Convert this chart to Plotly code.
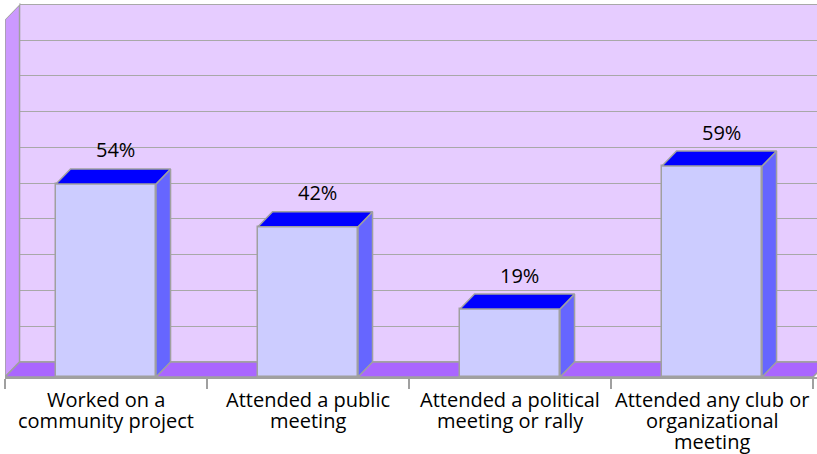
import plotly.graph_objects as go

# Survey results: share of respondents who took part in each activity
label_lines = [
    ["Worked on a", "community project"],
    ["Attended a public", "meeting"],
    ["Attended a political", "meeting or rally"],
    ["Attended any club or", "organizational", "meeting"],
]
values = [54, 42, 19, 59]
grid_steps = list(range(0, 101, 10))

# pseudo-3D geometry (in data units)
DX = 0.072          # horizontal depth offset
DY = 4.2            # vertical depth offset
BAR_W = 0.495
X_MIN, X_MAX = -0.5, len(values) - 0.5

FRONT = "#CCCCFF"
TOP = "#0000FF"
SIDE = "#6666FF"
EDGE = "#A0A0A0"
BACK_WALL = "#E6CCFF"
LEFT_WALL = "#CC99FF"
FLOOR = "#AA66FF"
FONT = "Open Sans"
LINE_GAP = 21       # px between category label lines

xs = list(range(len(values)))

fig = go.Figure()

# front faces
fig.add_trace(go.Bar(
    x=xs, y=values, width=BAR_W,
    marker=dict(color=FRONT, line=dict(color=EDGE, width=1.5)),
    hoverinfo="skip", showlegend=False,
))

# top and side faces built from the same values
top_x, top_y, side_x, side_y = [], [], [], []
for x, v in zip(xs, values):
    l, r = x - BAR_W / 2, x + BAR_W / 2
    top_x += [l, r, r + DX, l + DX, l, None]
    top_y += [v, v, v + DY, v + DY, v, None]
    side_x += [r, r + DX, r + DX, r, r, None]
    side_y += [0, DY, v + DY, v, 0, None]

fig.add_trace(go.Scatter(
    x=side_x, y=side_y, mode="lines", fill="toself", fillcolor=SIDE,
    line=dict(color=EDGE, width=1.5), hoverinfo="skip", showlegend=False,
))
fig.add_trace(go.Scatter(
    x=top_x, y=top_y, mode="lines", fill="toself", fillcolor=TOP,
    line=dict(color=EDGE, width=1.5), hoverinfo="skip", showlegend=False,
))

# walls and floor
shapes = [
    dict(type="rect", layer="below", xref="x", yref="y",
         x0=X_MIN + DX, x1=X_MAX + 1, y0=DY, y1=100 + DY,
         fillcolor=BACK_WALL, line=dict(width=0)),
    dict(type="path", layer="between", xref="x", yref="y",
         path=f"M {X_MIN},0 L {X_MIN + DX},{DY} L {X_MIN + DX},{100 + DY} L {X_MIN},100 Z",
         fillcolor=LEFT_WALL, line=dict(color=EDGE, width=1.5)),
    dict(type="path", layer="between", xref="x", yref="y",
         path=f"M {X_MIN},100 L {X_MIN + DX},{100 + DY} L {X_MIN},{100 + DY + 5} Z",
         fillcolor="white", line=dict(width=0)),
    dict(type="path", layer="between", xref="x", yref="y",
         path=f"M {X_MIN},0 L {X_MAX},0 L {X_MAX + DX},{DY} L {X_MIN + DX},{DY} Z",
         fillcolor=FLOOR, line=dict(color=EDGE, width=1.5)),
]

annotations = []
for x, v in zip(xs, values):
    annotations.append(dict(
        x=x + DX * 0.65, y=v + DY, xref="x", yref="y",
        text=f"{v}%", showarrow=False, yanchor="middle", yshift=19,
        font=dict(family=FONT, size=20, color="black"),
    ))
for x, lines in zip(xs, label_lines):
    for j, line in enumerate(lines):
        annotations.append(dict(
            x=x, y=0, xref="x", yref="y",
            text=line, showarrow=False, yanchor="middle",
            yshift=-(22 + LINE_GAP * j),
            font=dict(family=FONT, size=20, color="black"),
        ))

fig.update_layout(
    width=817, height=454,
    margin=dict(l=5, r=0, t=0, b=77),
    paper_bgcolor="white", plot_bgcolor="white",
    shapes=shapes, annotations=annotations,
    bargap=0,
    xaxis=dict(
        range=[X_MIN, X_MAX + 4 / 202],
        tickvals=xs, showticklabels=False, ticks="",
        showgrid=False, zeroline=False,
        showline=True, linecolor=EDGE, linewidth=1.5,
        minor=dict(tickmode="array", tickvals=[i - 0.5 for i in range(len(values) + 1)],
                   ticks="outside", ticklen=10, tickcolor=EDGE, tickwidth=1.5),
    ),
    yaxis=dict(
        range=[0, 377 / 3.575],
        tickvals=[DY + t for t in grid_steps], showticklabels=False,
        showgrid=True, gridcolor="#A8A8A8", gridwidth=1.3,
        zeroline=False, showline=False, ticks="",
    ),
)

fig.write_html("out.html")
